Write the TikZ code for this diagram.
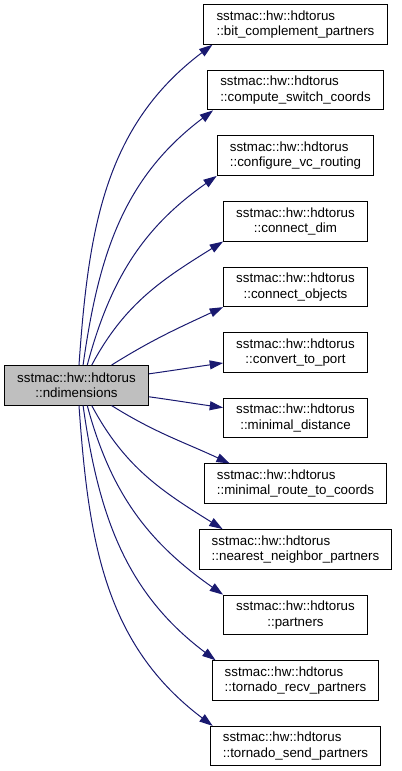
\documentclass[tikz,border=0pt]{standalone}
\usepackage{fontspec}
\setmainfont{Liberation Sans}
\usepackage{tikz}
\usetikzlibrary{arrows.meta,calc}
\definecolor{edgeblue}{RGB}{25,25,112}
\definecolor{curgray}{RGB}{191,191,191}

\begin{document}
\begin{tikzpicture}[x=0.75pt, y=0.75pt, >={Triangle[length=10pt,width=6.7pt]},
		font=\fontsize{10}{11.5}\selectfont,
		fn/.style={draw=black, line width=0.75pt, minimum width=107.25pt, minimum height=29.6pt, inner xsep=9.5pt, inner ysep=2pt},
		cur/.style={fn, fill=curgray},
		call/.style={->, draw=edgeblue, line width=0.75pt}]
		\useasboundingbox (0,0) rectangle (401,-771);
		\def\xt{295.5}  % x of the callee column
		\def\yt{24.5}   % y of the first callee
		\def\sp{65.6}   % spacing of the callees
		% caller
		\node[cur, align=center] (src) at (76.5,-385.3) {sstmac::hw::hdtorus\\::ndimensions};
		% callees, long names
		\foreach \i/\fname in {1/bit\_complement\_partners, 2/compute\_switch\_coords, 3/configure\_vc\_routing,
			8/minimal\_route\_to\_coords, 9/nearest\_neighbor\_partners, 11/tornado\_recv\_partners, 12/tornado\_send\_partners} {
			\pgfmathsetmacro{\y}{-(\yt+(\i-1)*\sp)}
			\node[fn, align=left] (t\i) at (\xt,\y) {sstmac::hw::hdtorus\\::\fname};
		}
		% callees, short names
		\foreach \i/\fname in {4/connect\_dim, 5/connect\_objects, 6/convert\_to\_port, 7/minimal\_distance, 10/partners} {
			\pgfmathsetmacro{\y}{-(\yt+(\i-1)*\sp)}
			\node[fn, align=center] (t\i) at (\xt,\y) {sstmac::hw::hdtorus\\::\fname};
		}
		% calls: start angle / out / in / end anchor / shift
		\foreach \i/\a/\o/\n/\anc/\dx/\dyy in {1/83/86/217/south west/9/0, 2/72/82/217/south west/6/0,
			3/62/75/215/south west/0/0, 4/53/62/212/south west/0/0, 5/30/32/205/south west/0/0,
			6/9/8/188/west/0/-10.5, 7/351/352/172/west/0/10.5,
			8/330/328/155/north west/26/0, 9/307/298/148/north west/24/0, 10/298/285/145/north west/0/0,
			11/288/278/143/north west/4/0, 12/277/274/143/north west/3/0} {
			\draw[call] (src.\a) to[out=\o, in=\n] ($(t\i.\anc)+(\dx,\dyy)$);
		}
	\end{tikzpicture}
\end{document}
